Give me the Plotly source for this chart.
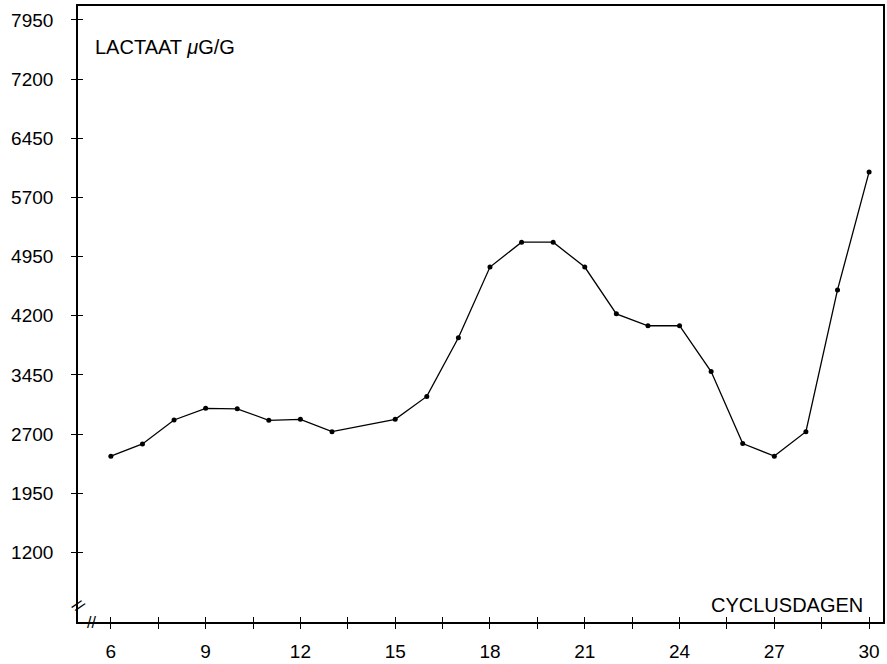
import plotly.graph_objects as go

days = [6, 7, 8, 9, 10, 11, 12, 13, 15, 16, 17, 18, 19, 20, 21, 22, 23, 24, 25, 26, 27, 28, 29, 30]
lactaat = [2420, 2575, 2878, 3026, 3020, 2874, 2887, 2730, 2887, 3177, 3921, 4817, 5133, 5133,
           4817, 4224, 4073, 4073, 3492, 2579, 2420, 2730, 4527, 6023]

y_ticks = [1200, 1950, 2700, 3450, 4200, 4950, 5700, 6450, 7200, 7950]
x_ticks = [6, 9, 12, 15, 18, 21, 24, 27, 30]
x_range = [4.96, 30.44]
y_range = [317, 8127]

FONT = "Liberation Sans, Arial, sans-serif"

fig = go.Figure()
fig.add_trace(go.Scatter(
    x=days, y=lactaat, mode="lines+markers",
    line=dict(color="black", width=1.3),
    marker=dict(color="black", size=5),
    hoverinfo="skip", showlegend=False,
))
# invisible copy on overlay axes (used to draw the inner halves of the ticks)
fig.add_trace(go.Scatter(
    x=days, y=lactaat, xaxis="x2", yaxis="y2", mode="lines",
    line=dict(color="rgba(0,0,0,0)"), hoverinfo="skip", showlegend=False,
))

axis_common = dict(showgrid=False, zeroline=False, tickcolor="black", tickwidth=1.2)

fig.update_layout(
    width=887, height=664,
    margin=dict(l=78, r=2, t=6, b=39),
    paper_bgcolor="white", plot_bgcolor="white",
    font=dict(family=FONT, size=19, color="black"),
    xaxis=dict(
        range=x_range, tickmode="array", tickvals=x_ticks,
        ticks="outside", ticklen=5, showline=True, linecolor="black", linewidth=1.6,
        mirror=True, ticklabelstandoff=6,
        minor=dict(tickmode="array", tickvals=[v + 1.5 for v in x_ticks[:-1]],
                   ticks="outside", ticklen=5, tickcolor="black", tickwidth=1.2),
        **axis_common,
    ),
    yaxis=dict(
        range=y_range, tickmode="array", tickvals=y_ticks,
        ticks="outside", ticklen=5, showline=True, linecolor="black", linewidth=1.6,
        mirror=True, ticklabelstandoff=14,
        **axis_common,
    ),
    xaxis2=dict(
        range=x_range, overlaying="x", anchor="y", side="bottom",
        tickmode="array", tickvals=x_ticks, showticklabels=False,
        ticks="inside", ticklen=5, showline=False,
        minor=dict(tickmode="array", tickvals=[v + 1.5 for v in x_ticks[:-1]],
                   ticks="inside", ticklen=5, tickcolor="black", tickwidth=1.2),
        **axis_common,
    ),
    yaxis2=dict(
        range=y_range, overlaying="y", anchor="x", side="left",
        tickmode="array", tickvals=y_ticks, showticklabels=False,
        ticks="inside", ticklen=5, showline=False,
        **axis_common,
    ),
    annotations=[
        dict(text="LACTAAT <i>μ</i>G/G", xref="paper", yref="paper", x=0.0186, y=0.934,
             xanchor="left", yanchor="middle", showarrow=False, font=dict(size=20)),
        dict(text="CYCLUSDAGEN", xref="paper", yref="paper", x=0.978, y=0.0275,
             xanchor="right", yanchor="middle", showarrow=False, font=dict(size=20)),
        dict(text="//", xref="paper", yref="paper", x=0.017, y=0.0,
             xanchor="center", yanchor="middle", showarrow=False, font=dict(size=16)),
        dict(text="//", xref="paper", yref="paper", x=0.0, y=0.027, textangle=40,
             xanchor="center", yanchor="middle", showarrow=False, font=dict(size=16)),
    ],
)

fig.write_html("out.html")
